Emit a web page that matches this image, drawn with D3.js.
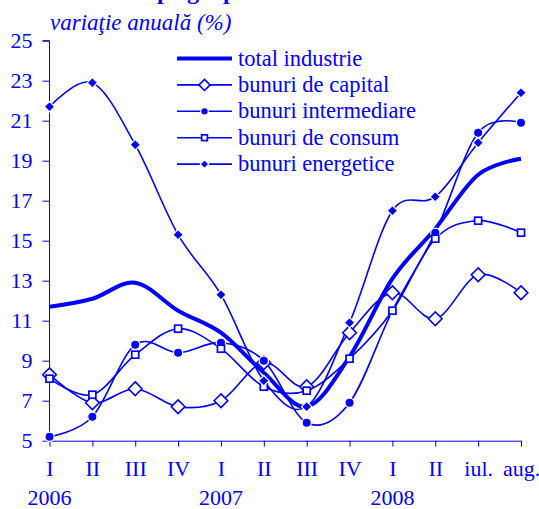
<!DOCTYPE html>
<html>
<head>
<meta charset="utf-8">
<script src="https://cdn.jsdelivr.net/npm/d3@7"></script>
<style>
  html, body { margin: 0; padding: 0; background: #fff; }
  svg { display: block; }
</style>
</head>
<body>
<div id="chart"></div>
<script>
// periods on the x axis (quarters, then months of 2008)
const categories = ["I", "II", "III", "IV", "I", "II", "III", "IV", "I", "II", "iul.", "aug."];
const years = [["2006", 0], ["2007", 4], ["2008", 8]];
const yTicks = [5, 7, 9, 11, 13, 15, 17, 19, 21, 23, 25];

// annual change, %
const totalIndustrie = [11.7, 12.1, 12.9, 11.5, 10.4, 8.4, 6.7, 9.2, 13.1, 15.6, 18.3, 19.1];
const bunuriCapital = [8.3, 6.9, 7.6, 6.7, 7.0, 8.9, 7.7, 10.4, 12.4, 11.1, 13.3, 12.4];
const bunuriIntermediare = [5.2, 6.2, 9.8, 9.4, 9.9, 9.0, 5.9, 6.9, 11.5, 15.4, 20.4, 20.9];
const bunuriConsum = [8.1, 7.3, 9.3, 10.6, 9.6, 7.7, 7.5, 9.1, 11.5, 15.1, 16.0, 15.4];
const bunuriEnergetice = [21.7, 22.9, 19.8, 15.3, 12.3, 8.0, 6.7, 10.9, 16.5, 17.2, 19.9, 22.4];

const blue = "#0000ff";
const serif = "'Liberation Serif', 'Times New Roman', serif";
const width = 539, height = 509;

const series = [
    { name: "total industrie", values: totalIndustrie, marker: "none", thick: true },
    { name: "bunuri de capital", values: bunuriCapital, marker: "diamondOpen" },
    { name: "bunuri intermediare", values: bunuriIntermediare, marker: "circle" },
    { name: "bunuri de consum", values: bunuriConsum, marker: "square" },
    { name: "bunuri energetice", values: bunuriEnergetice, marker: "diamond" }
];

const svg = d3.select("#chart")
    .append("svg")
    .attr("width", width)
    .attr("height", height);

const x = d3.scaleLinear().domain([0, categories.length - 1]).range([49.5, 521]);
const y = d3.scaleLinear().domain([5, 25]).range([440.7, 40.7]);

// clipped title at the very top
svg.append("text")
    .attr("x", 157)
    .attr("y", -1)
    .attr("fill", blue)
    .style("font-family", serif)
    .style("font-size", "24px")
    .style("font-weight", "bold")
    .text("pe grupe de bunuri");

// unit label
svg.append("text")
    .attr("x", 50)
    .attr("y", 30)
    .attr("fill", blue)
    .style("font-family", serif)
    .style("font-size", "23px")
    .style("font-style", "italic")
    .text("variaţie anuală (%)");

// y axis
const yAxis = d3.axisLeft(y).tickValues(yTicks).tickSize(7).tickPadding(10);
const gy = svg.append("g")
    .attr("transform", `translate(${x(0)},0)`)
    .call(yAxis);
gy.select(".domain").attr("stroke", blue).attr("d", `M-7,${y(25)}H0V${y(5)}`);
gy.selectAll(".tick line").attr("stroke", blue);
gy.selectAll(".tick text")
    .attr("fill", blue)
    .style("font-size", "22px")
    .style("font-family", serif);

// x axis
const xAxis = d3.axisBottom(x)
    .tickValues(d3.range(categories.length))
    .tickSize(6)
    .tickSizeOuter(0)
    .tickPadding(14)
    .tickFormat(i => categories[i]);
const gx = svg.append("g")
    .attr("transform", `translate(0,${y(5)})`)
    .call(xAxis);
gx.select(".domain").attr("stroke", blue);
gx.selectAll(".tick line").attr("stroke", blue);
gx.selectAll(".tick text")
    .attr("fill", blue)
    .style("font-size", "22px")
    .style("font-family", serif);

svg.selectAll("text.year")
    .data(years)
    .join("text")
    .attr("class", "year")
    .attr("x", d => x(d[1]))
    .attr("y", 505)
    .attr("text-anchor", "middle")
    .attr("fill", blue)
    .style("font-family", serif)
    .style("font-size", "22px")
    .text(d => d[0]);

// lines
const line = d3.line()
    .x((d, i) => x(i))
    .y(d => y(d))
    .curve(d3.curveCardinal.tension(0));

svg.append("g").selectAll("path")
    .data(series)
    .join("path")
    .attr("d", d => line(d.values))
    .attr("fill", "none")
    .attr("stroke", blue)
    .attr("stroke-width", d => d.thick ? 4 : 1.6)
    .attr("stroke-linejoin", "round");

// marker helper
function drawMarker(g, type, cx, cy, scale) {
    if (type === "diamondOpen") {
        const r = 6.8 * scale;
        g.append("path")
            .attr("d", `M${cx},${cy - r}L${cx + r},${cy}L${cx},${cy + r}L${cx - r},${cy}Z`)
            .attr("fill", "#fff").attr("stroke", blue).attr("stroke-width", 1.6);
    } else if (type === "circle") {
        g.append("circle")
            .attr("cx", cx).attr("cy", cy).attr("r", 4.6 * scale)
            .attr("fill", blue).attr("stroke", "#fff").attr("stroke-width", 1.2);
    } else if (type === "square") {
        const s = 7 * scale;
        g.append("rect")
            .attr("x", cx - s / 2).attr("y", cy - s / 2)
            .attr("width", s).attr("height", s)
            .attr("fill", "#fff").attr("stroke", blue).attr("stroke-width", 1.7);
    } else if (type === "diamond") {
        const r = 5.2 * scale;
        g.append("path")
            .attr("d", `M${cx},${cy - r}L${cx + r},${cy}L${cx},${cy + r}L${cx - r},${cy}Z`)
            .attr("fill", blue).attr("stroke", "#fff").attr("stroke-width", 1.2);
    }
}

const markerGroup = svg.append("g");
series.forEach(s => {
    if (s.marker === "none") return;
    s.values.forEach((v, i) => drawMarker(markerGroup, s.marker, x(i), y(v), 1));
});

// legend
const legend = svg.append("g");
series.forEach((s, i) => {
    const ly = 58.5 + i * 26.4;
    legend.append("line")
        .attr("x1", 177).attr("x2", 232)
        .attr("y1", ly).attr("y2", ly)
        .attr("stroke", blue)
        .attr("stroke-width", s.thick ? 4 : 1.6);
    drawMarker(legend, s.marker, 204.5, ly, 0.82);
    legend.append("text")
        .attr("x", 238)
        .attr("y", ly + 7)
        .attr("fill", blue)
        .style("font-family", serif)
        .style("font-size", "22.5px")
        .text(s.name);
});
</script>
</body>
</html>
